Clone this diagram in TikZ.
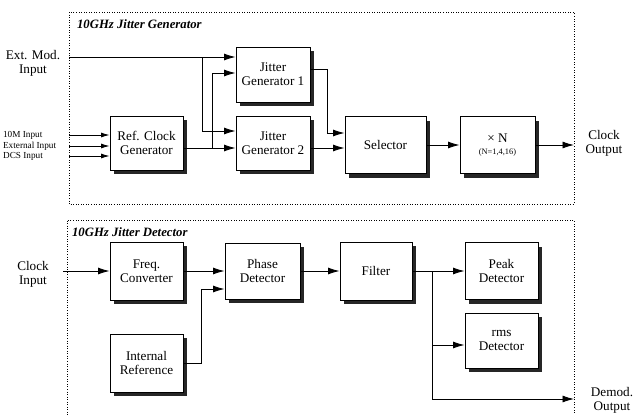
\documentclass[tikz,border=0pt]{standalone}
\usepackage{fontspec}
\setmainfont{Liberation Serif}
\usetikzlibrary{arrows.meta,shadows}

\tikzset{
  block/.style={draw, fill=white, line width=1.1pt, align=center, inner sep=1pt,
    font=\fontsize{15}{16}\selectfont,
    drop shadow={shadow xshift=1.6mm, shadow yshift=-1.6mm, opacity=1, fill=black!85}},
  sig/.style={line width=1pt, -{Latex[length=4.6mm,width=2.8mm]}},
  sigsmall/.style={line width=0.9pt, -{Latex[length=3.4mm,width=2mm]}},
  frame/.style={dotted, line width=0.9pt},
  title/.style={anchor=west, font=\fontsize{14.5}{16}\selectfont\bfseries\itshape},
  io/.style={align=center, font=\fontsize{15}{16}\selectfont},
  small/.style={anchor=west, font=\fontsize{10.5}{12}\selectfont}
}

\begin{document}
\begin{tikzpicture}[x=0.4mm, y=-0.4mm]
	\useasboundingbox (0,0) rectangle (634,414);
	% frames
	\draw[frame] (69,12) rectangle (574,204);
	\draw[frame] (574,418) -- (574,220) -- (67,220) -- (67,418);
	\node[title] (gentitle) at (74,24) {10GHz Jitter Generator};
	\node[title] (dettitle) at (69,232) {10GHz Jitter Detector};

	% generator
	\node[block, minimum width=29.2mm, minimum height=21.6mm] (refclk) at (146.5,143) {Ref. Clock\\Generator};
	\node[block, minimum width=29.6mm, minimum height=22mm] (jg1) at (273,74.5) {Jitter\\Generator 1};
	\node[block, minimum width=29.6mm, minimum height=21.6mm] (jg2) at (273,143) {Jitter\\Generator 2};
	\node[block, minimum width=32.4mm, minimum height=22.8mm] (selector) at (385.5,145) {Selector};
	\node[block, minimum width=30mm, minimum height=22.8mm] (mult) at (497.5,145) {× N\\[-2pt]{\fontsize{9.5}{11}\selectfont (N=1,4,16)}};

	\node[io] (extmodtxt) at (33,63) {Ext. Mod.\\Input};
	\coordinate (extmod) at (69,57);
	\foreach \y/\t in {135/10M Input, 146/External Input, 156/DCS Input} {
		\node[small] (in\y) at (0,\y) {\t};
		\draw[sigsmall] (69,\y) -- (refclk.west |- 0,\y);
	}
	\draw[sig] (extmod) -- (jg1.west |- extmod);
	\draw[sig] (202,57) |- (jg2.west |- 0,131);
	\draw[sig] (refclk.east |- 0,148) -- (jg2.west |- 0,148);
	\draw[sig] (212,148) |- (jg1.west |- 0,73);
	\draw[sig] (jg1.east |- 0,69) -- (327,69) |- (selector.west |- 0,133);
	\draw[sig] (jg2.east |- 0,148) -- (selector.west |- 0,148);
	\draw[sig] (selector.east) -- (mult.west);
	\coordinate (clkout) at (574,145);
	\draw[sig] (mult.east) -- (clkout);
	\node[io] (clkouttxt) at (604,143) {Clock\\Output};

	% detector
	\node[block, minimum width=29.2mm, minimum height=23.2mm] (freq) at (146.5,271) {Freq.\\Converter};
	\node[block, minimum width=30mm, minimum height=22.4mm] (phase) at (262.5,271) {Phase\\Detector};
	\node[block, minimum width=28.8mm, minimum height=23.2mm] (filter) at (376,271) {Filter};
	\node[block, minimum width=29.2mm, minimum height=22.8mm] (peak) at (501.5,271) {Peak\\Detector};
	\node[block, minimum width=29.2mm, minimum height=22mm] (rms) at (501.5,340.5) {rms\\Detector};
	\node[block, minimum width=29.2mm, minimum height=23.2mm] (intref) at (146.5,363) {Internal\\Reference};

	\node[io] (clkintxt) at (33,274) {Clock\\Input};
	\coordinate (clkin) at (63,271);
	\draw[sig] (clkin) -- (freq.west);
	\draw[sig] (freq.east) -- (phase.west);
	\draw[sig] (intref.east) -- (201,363) |- (phase.west |- 0,289);
	\draw[sig] (phase.east) -- (filter.west);
	\draw[sig] (filter.east) -- (peak.west);
	\draw[sig] (432,271) |- (rms.west |- 0,345);
	\coordinate (demod) at (574,399);
	\draw[sig] (432,271) |- (demod);
	\node[io] (demodtxt) at (612,400) {Demod.\\Output};
\end{tikzpicture}
\end{document}
